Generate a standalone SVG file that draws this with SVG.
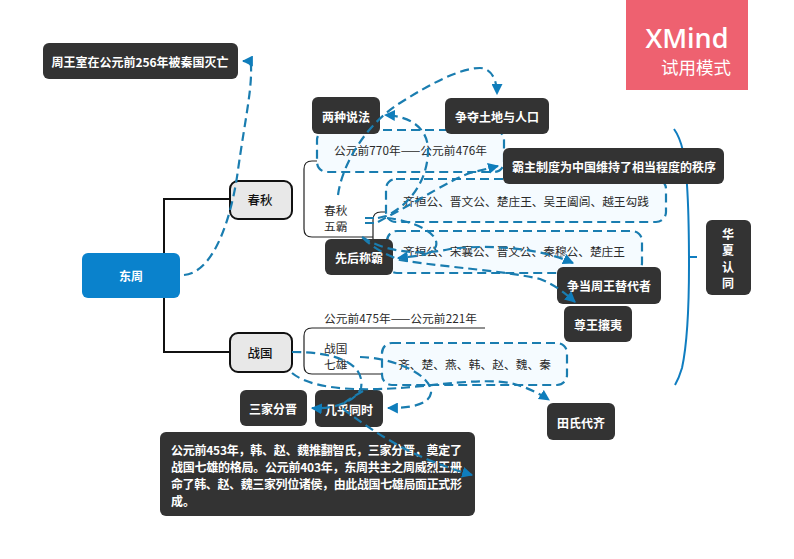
<svg xmlns="http://www.w3.org/2000/svg" width="794" height="559" viewBox="0 0 794 559">
<style>
text{font-family:"Noto Sans CJK SC","Liberation Sans",sans-serif}
.n{fill:#333;}
.w{fill:#fff;font-weight:700;font-size:12px;text-anchor:middle;dominant-baseline:central}
.t{fill:#2a2a2a;font-size:11.7px;dominant-baseline:central}
.s{fill:#e8e8e8;stroke:#111;stroke-width:2}
.d{fill:#f5fbff;stroke:#1a7db0;stroke-width:2.2;stroke-dasharray:9 5}
.a{fill:none;stroke:#1a7db0;stroke-width:2.2;stroke-dasharray:9 5;marker-end:url(#h)}
.b{fill:none;stroke:#1a7db0;stroke-width:2.2}
.l{fill:none;stroke:#222;stroke-width:1.2}
</style>
<defs><marker id="h" viewBox="0 0 10 10" refX="9" refY="5" markerWidth="11" markerHeight="11" markerUnits="userSpaceOnUse" orient="auto"><path d="M0 0L10 5L0 10z" fill="#0f7dbb"/></marker></defs>
<rect width="794" height="559" fill="#fff"/>
<g id="watermark"><rect x="626" y="0" width="122" height="90" fill="#ee6170"/><text x="687" y="37" font-size="27" font-weight="600" fill="#fff" text-anchor="middle" dominant-baseline="central" style='font-family:"Open Sans","Liberation Sans",sans-serif'>XMind</text><text x="731" y="66" font-size="17.5" fill="#fff" text-anchor="end" dominant-baseline="central">试用模式</text></g>
<g id="trunk"><path d="M230 199H164V352H230" fill="none" stroke="#111" stroke-width="2"/><path d="M674 129C682 140 686 160 687 185C689 215 689 240 689 265C689 310 687 345 682 368Q679 378 675 385M689 257H697" fill="none" stroke="#0f7dc0" stroke-width="2"/></g>
<g id="boxes">
<path class="l" d="M494 161H312Q304 161 304 169V229Q304 237 312 237H373M660 212H381Q373 212 373 220V262H633"/>
<path class="l" d="M485 328H312Q304 328 304 336V366Q304 374 312 374H557"/>
<rect class="d" x="317" y="130" width="187" height="42" rx="10"/>
<rect class="d" x="386" y="179" width="280" height="43" rx="10"/>
<rect class="d" x="387" y="231" width="255" height="42" rx="10"/>
<rect class="d" x="382" y="343" width="185" height="42" rx="10"/>
</g>
<g id="labels">
<text class="t" x="334" y="149" textLength="153">公元前770年——公元前476年</text>
<text class="t" x="324" y="209">春秋</text><text class="t" x="324" y="225">五霸</text>
<text class="t" x="403" y="200" textLength="246">齐桓公、晋文公、楚庄王、吴王阖闾、越王勾践</text>
<text class="t" x="403" y="250" textLength="222">齐桓公、宋襄公、晋文公、秦穆公、楚庄王</text>
<text class="t" x="324" y="317" textLength="153">公元前475年——公元前221年</text>
<text class="t" x="324" y="347">战国</text><text class="t" x="324" y="363">七雄</text>
<text class="t" x="398" y="363" textLength="153">齐、楚、燕、韩、赵、魏、秦</text>
</g>
<g id="root"><rect x="82" y="253" width="98" height="45" rx="6" fill="#0a82cc"/><text class="w" x="131" y="275">东周</text></g>
<g id="chunqiu"><rect class="s" x="230" y="181" width="62" height="38" rx="8"/><text x="260" y="199" font-size="12.5" font-weight="500" fill="#111" text-anchor="middle" dominant-baseline="central">春秋</text></g>
<g id="zhanguo"><rect class="s" x="230" y="333" width="62" height="39" rx="8"/><text x="260" y="352" font-size="12.5" font-weight="500" fill="#111" text-anchor="middle" dominant-baseline="central">战国</text></g>
<g id="n1"><rect class="n" x="43" y="43" width="195" height="36" rx="6"/><text class="w" x="140" y="61">周王室在公元前256年被秦国灭亡</text></g>
<g id="n2"><rect class="n" x="312" y="97" width="68" height="37" rx="6"/><text class="w" x="346" y="116">两种说法</text></g>
<g id="n3"><rect class="n" x="445" y="98" width="104" height="36" rx="6"/><text class="w" x="497" y="116">争夺土地与人口</text></g>
<g id="n4"><rect class="n" x="503" y="148" width="221" height="36" rx="6"/><text class="w" x="614" y="166">霸主制度为中国维持了相当程度的秩序</text></g>
<g id="n5"><rect class="n" x="325" y="239" width="68" height="36" rx="6"/><text class="w" x="359" y="257">先后称霸</text></g>
<g id="n6"><rect class="n" x="557" y="267" width="104" height="37" rx="6"/><text class="w" x="609" y="285">争当周王替代者</text></g>
<g id="n7"><rect class="n" x="564" y="306" width="68" height="36" rx="6"/><text class="w" x="598" y="324">尊王攘夷</text></g>
<g id="n8"><rect class="n" x="706" y="220" width="45" height="75" rx="6"/><text class="w" x="728" y="233">华</text><text class="w" x="728" y="249">夏</text><text class="w" x="728" y="266">认</text><text class="w" x="728" y="282">同</text></g>
<g id="n9"><rect class="n" x="240" y="390" width="67" height="36" rx="6"/><text class="w" x="273" y="408">三家分晋</text></g>
<g id="n10"><rect class="n" x="315" y="390" width="68" height="37" rx="6"/><text class="w" x="349" y="409">几乎同时</text></g>
<g id="n11"><rect class="n" x="547" y="403" width="68" height="37" rx="6"/><text class="w" x="581" y="422">田氏代齐</text></g>
<g id="n12"><rect class="n" x="160" y="432" width="315" height="84" rx="6"/>
<text class="w" style="text-anchor:start" x="171" y="449" textLength="291">公元前453年，韩、赵、魏推翻智氏，三家分晋，奠定了</text>
<text class="w" style="text-anchor:start" x="171" y="466" textLength="291">战国七雄的格局。公元前403年，东周共主之周威烈王册</text>
<text class="w" style="text-anchor:start" x="171" y="483" textLength="291">命了韩、赵、魏三家列位诸侯，由此战国七雄局面正式形</text>
<text class="w" style="text-anchor:start" x="171" y="500">成。</text></g>
<g id="connectors">
<path class="b" d="M365 218H374M365 223H374"/>
<path class="a" d="M184 275C215 272 232 215 238 170C245 120 252 90 251 66Q250 61 243 61"/>
<path class="a" d="M338 195C342 165 365 125 400 103C430 84 460 68 480 68C490 68 497 78 497 94"/>
<path class="a" d="M378 218L386 216C410 205 428 180 428 150C428 128 410 116 385 115"/>
<path class="a" d="M378 222L387 217C420 200 450 180 470 173L498 166"/>
<path class="a" d="M387 218C410 220 440 232 436 246C432 256 415 256 398 258"/>
<path class="a" d="M362 237C385 252 420 256 450 249C490 244 540 248 573 263"/>
<path class="a" d="M363 238C375 250 390 256 400 260C450 268 500 270 540 279C555 285 565 293 575 302"/>
<path class="a" d="M292 352C340 352 365 365 361 388C357 400 335 410 312 408"/>
<path class="a" d="M360 357C395 358 432 375 431 393C429 405 410 408 388 408"/>
<path class="a" d="M292 373C315 392 370 390 400 388C440 385 480 378 510 383C525 386 540 394 549 400"/>
<path class="a" d="M363 391C345 402 335 405 350 414C385 440 420 460 472 475"/>
</g>
</svg>
